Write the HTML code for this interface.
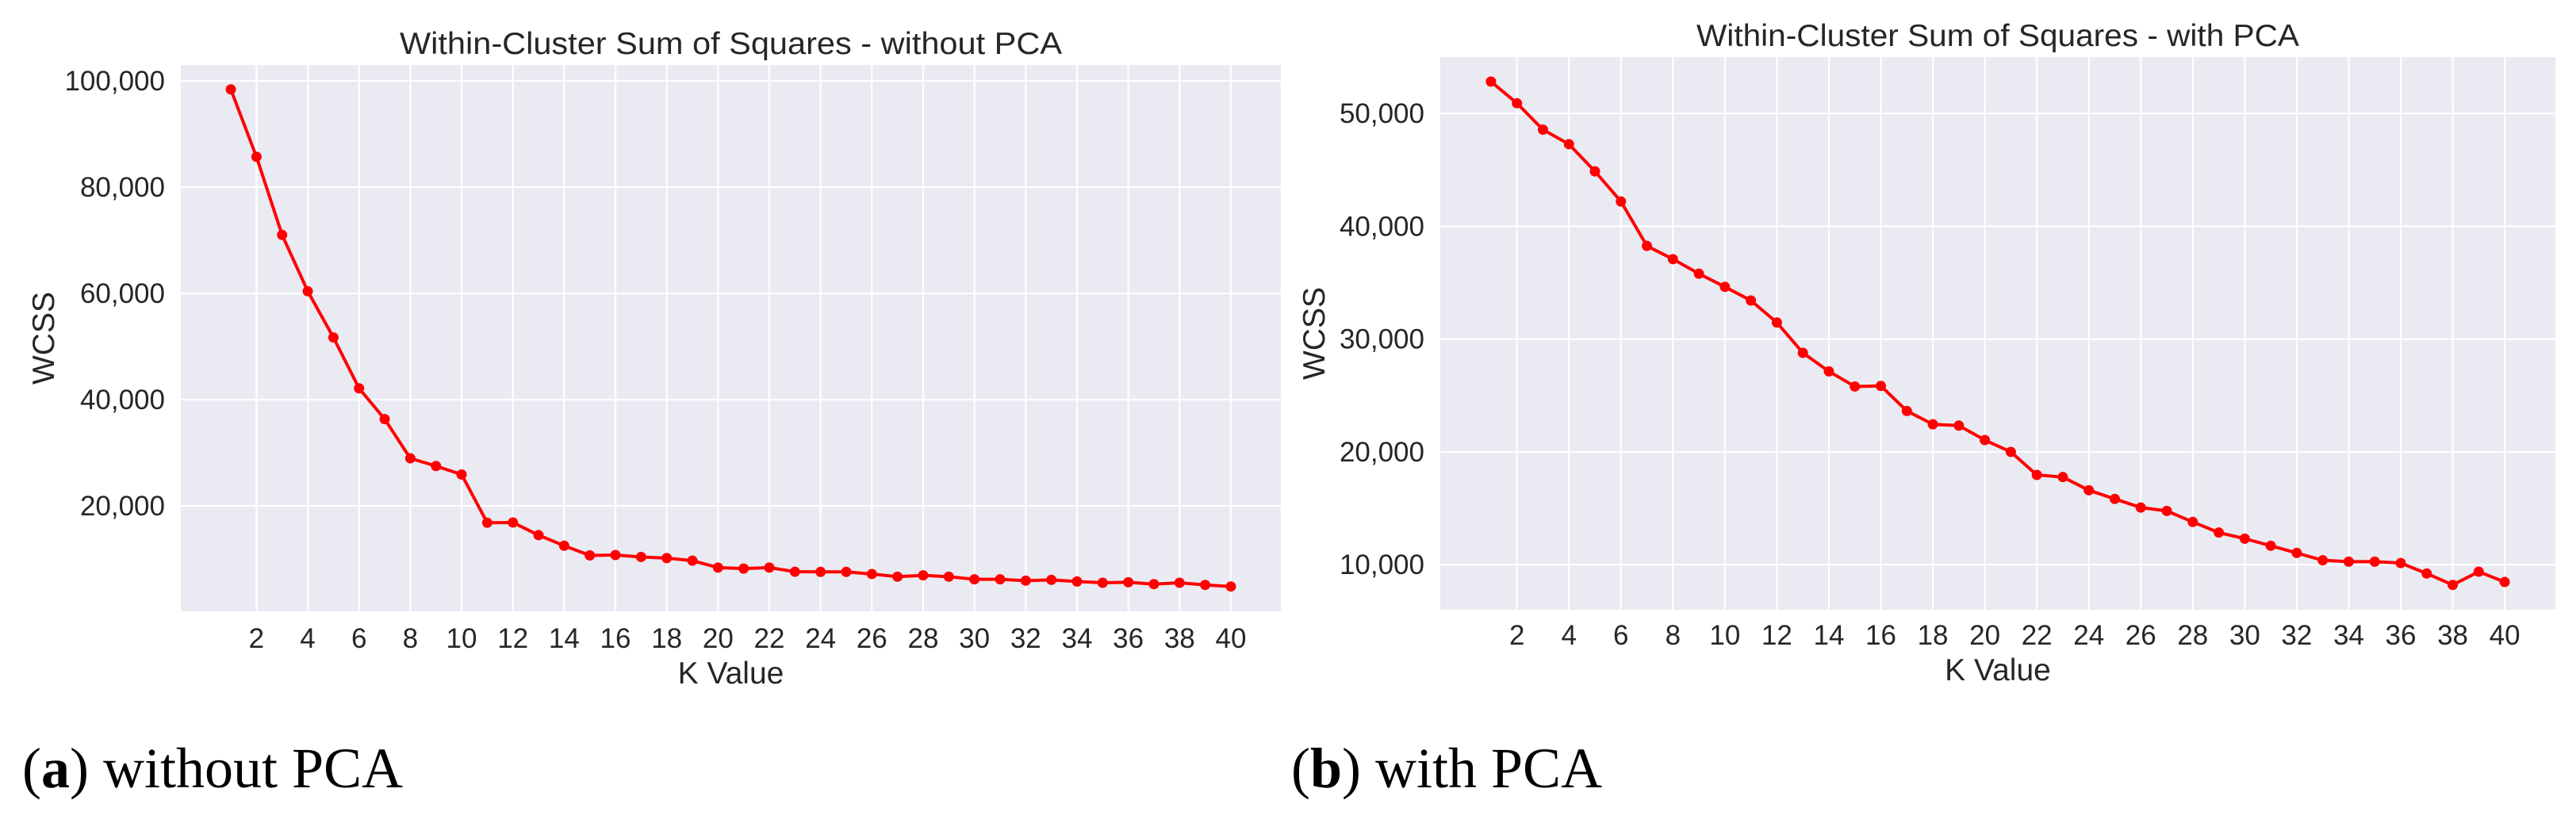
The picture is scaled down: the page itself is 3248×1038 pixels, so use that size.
<!DOCTYPE html>
<html><head><meta charset="utf-8"><style>
html,body{margin:0;padding:0;background:#fff;}
svg text{font-family:"Liberation Sans",Arial,sans-serif;fill:#262626;}
.cap{font-family:"Liberation Serif",serif;fill:#000;}
</style></head><body>
<svg id="fig" width="3248" height="1033" viewBox="0 0 3248 1033" xmlns="http://www.w3.org/2000/svg">
<g id="left"></g>
<g id="right"></g>
<text class="cap" x="28" y="993" font-size="72">(<tspan font-weight="bold">a</tspan>) without PCA</text>
<text class="cap" x="1628" y="993" font-size="72">(<tspan font-weight="bold">b</tspan>) with PCA</text>
</svg>
<script>
const kValues = [1,2,3,4,5,6,7,8,9,10,11,12,13,14,15,16,17,18,19,20,21,22,23,24,25,26,27,28,29,30,31,32,33,34,35,36,37,38,39,40];
const wcssNoPca = [98400,85700,71000,60400,51700,42130,36330,28950,27500,25900,16820,16870,14490,12500,10670,10750,10380,10170,9680,8380,8190,8380,7600,7570,7570,7170,6670,6920,6670,6170,6170,5920,6070,5770,5520,5620,5270,5520,5120,4820];
const wcssPca = [52830,50910,48570,47280,44870,42200,38260,37090,35800,34630,33420,31470,28780,27140,25800,25850,23630,22450,22330,21050,20000,17960,17770,16600,15830,15070,14770,13790,12850,12310,11680,11040,10390,10270,10270,10150,9220,8210,9380,8470];
const xTicks = [2,4,6,8,10,12,14,16,18,20,22,24,26,28,30,32,34,36,38,40];
const yTicksNoPca = [20000,40000,60000,80000,100000];
const yTicksPca = [10000,20000,30000,40000,50000];
const NS = "http://www.w3.org/2000/svg";
function mk(parent, tag, attrs){const e=document.createElementNS(NS,tag);for(const k in attrs)e.setAttribute(k,attrs[k]);parent.appendChild(e);return e;}
function fmt(v){return v.toLocaleString('en-US');}
function draw(g, cfg, values, yTicks){
  const xs = k => cfg.x0 + (k - cfg.xmin) / (cfg.xmax - cfg.xmin) * (cfg.x1 - cfg.x0);
  const ys = v => cfg.y1 - (v - cfg.ymin) / (cfg.ymax - cfg.ymin) * (cfg.y1 - cfg.y0);
  const bg = mk(g,'rect',{x:cfg.x0,y:cfg.y0,width:cfg.x1-cfg.x0,height:cfg.y1-cfg.y0,fill:'#eaeaf2'});
  
  
  xTicks.forEach(t=>{
    const l = mk(g,'line',{x1:xs(t),x2:xs(t),y1:cfg.y0,y2:cfg.y1,stroke:'#fff','stroke-width':2.2});
    
    
    const tx = mk(g,'text',{x:xs(t),y:cfg.xtickY,'font-size':35,'text-anchor':'middle'});
    tx.textContent = t;
    
    
  });
  yTicks.forEach(t=>{
    const l = mk(g,'line',{x1:cfg.x0,x2:cfg.x1,y1:ys(t),y2:ys(t),stroke:'#fff','stroke-width':2.2});
    
    
    const tx = mk(g,'text',{x:cfg.x0-20,y:ys(t)+12,'font-size':35,'text-anchor':'end'});
    tx.textContent = fmt(t);
    
    
  });
  const pts = kValues.map((k,i)=>xs(k)+','+ys(values[i])).join(' ');
  const line = mk(g,'polyline',{points:pts,fill:'none',stroke:'#ff0000','stroke-width':4,'stroke-linejoin':'round'});
  
  
  kValues.forEach((k,i)=>{
    const c = mk(g,'circle',{cx:xs(k),cy:ys(values[i]),r:6.5,fill:'#ff0000'});
    
    
  });
  const title = mk(g,'text',{x:(cfg.x0+cfg.x1)/2,y:cfg.titleY,'font-size':39,'text-anchor':'middle',textLength:cfg.titleLen,lengthAdjust:'spacingAndGlyphs'});
  title.textContent = cfg.title;
  
  
  const xl = mk(g,'text',{x:(cfg.x0+cfg.x1)/2,y:cfg.xlabelY,'font-size':39,'text-anchor':'middle'});
  xl.textContent = 'K Value';
  
  
  const cy = (cfg.y0+cfg.y1)/2;
  const yl = mk(g,'text',{x:cfg.ylabelX,y:cy,'font-size':39,'text-anchor':'middle',transform:'rotate(-90 '+cfg.ylabelX+' '+cy+')'});
  yl.textContent = 'WCSS';
  
  
}
draw(document.getElementById('left'),
  {x0:228,x1:1615,y0:82,y1:771,xmin:-0.95,xmax:41.95,ymin:150,ymax:102985,xtickY:817,xlabelY:862,ylabelX:68,titleY:68,titleLen:835,title:'Within-Cluster Sum of Squares - without PCA'},
  wcssNoPca, yTicksNoPca);
draw(document.getElementById('right'),
  {x0:1816,x1:3222,y0:72,y1:769,xmin:-0.95,xmax:41.95,ymin:6010,ymax:55000,xtickY:813,xlabelY:858,ylabelX:1670,titleY:58,titleLen:760,title:'Within-Cluster Sum of Squares - with PCA'},
  wcssPca, yTicksPca);
</script>
</body></html>
